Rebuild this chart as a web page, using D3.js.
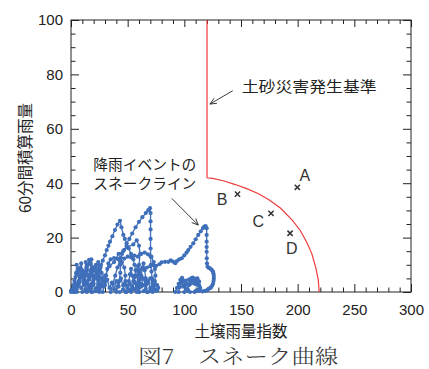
<!DOCTYPE html>
<html>
<head>
<meta charset="utf-8">
<script src="https://cdn.jsdelivr.net/npm/d3@7"></script>
<style>
  html, body { margin: 0; padding: 0; background: #fff; }
  svg { display: block; }
</style>
</head>
<body>
<svg id="chart" width="429" height="369"></svg>
<script>
// Axis ticks
const xMajorTicks = [0, 50, 100, 150, 200, 250, 300];
const yMajorTicks = [0, 20, 40, 60, 80, 100];

// Sediment disaster warning criterion (critical line)
const criticalLine = [
  [120, 100], [120, 42], [125, 41.8], [135, 40.8], [145, 39.5], [155, 38],
  [165, 36.2], [175, 33.8], [185, 30.8], [195, 26.5], [202, 22.8], [208, 18.3],
  [212.4, 14.2], [216, 9], [218.2, 4.4], [219, 0]
];

// Past disaster cases
const caseNames = ["A", "B", "C", "D"];
const caseX = [199.7, 146.9, 176.5, 193.3];
const caseY = [38.5, 36.0, 28.9, 21.6];

// Snake lines of rainfall events: [soil water index, 60-min cumulative rainfall]
const snake1 = [[0,0],[1,1],[2,2.5],[3,4],[4,5.5],[5,6.5],[6,7.5],[7,8.5],[8,9],[9,8],[10,6.5],[11,5],[12,4.5],[13,6],[14,8],[15,10],[16,11.8],[17,10.5],[18,8],[19,6],[19.5,4],[19,2.5],[18,1.5],[16,0.8],[13,0.3],[10,0]];
const snake2 = [[2,0],[3,1.5],[5,3],[7,4],[9,5.5],[11,4],[12,2.5],[14,3.5],[16,5],[18,7],[20,9],[22,10],[23,8],[24,6],[25,7.5],[26,9],[27,7],[28,4],[27,2],[25,1],[22,0.3],[18,0]];
const snake3 = [[14,0],[16,1.5],[18,3],[20,4.5],[22,6],[23.5,7.5],[25,9],[26.5,10],[28,11.5],[30,13.5],[31.5,15.4],[33,17],[34.4,18.5],[36.5,20.5],[38.8,22.8],[41,24.8],[43.2,26.2],[44.5,23.8],[46.2,21],[47.5,19.5],[49.1,17.9],[51.5,19.5],[54,21.5],[57,23.8],[60,25.8],[63,27.5],[66,29],[68.2,30.1],[69.7,30.8],[70.2,29],[70.2,26],[70.2,23],[70.2,19.5],[70.2,16],[70.3,13],[70.5,10],[71,7.5],[71.5,5],[72,3],[71.5,1.5],[70,0.5],[67,0]];
const snake4 = [[28,0],[29,2],[30,4],[31,6],[32,8.5],[33,10.5],[35,12],[38,12.5],[41,12.2],[44,12.6],[47,12.3],[50,13],[53,12.8],[56,13.4],[59,13],[62,14],[65,14.5],[68,13.8],[71,13],[73,11],[74,8.5],[74.5,6],[74,4],[73,2],[71,0.8],[68,0]];
const snake5 = [[35,0],[37,3],[39,6],[41,9],[43,11.5],[45,14],[47,15.5],[49,17],[51,16],[53,14],[55,12],[56,10],[57,8],[56.5,6],[55.5,4],[54,2],[52,0.8],[49,0]];
const snake6 = [[40,0],[41,2],[42.5,4],[43.5,7],[43.5,10],[43.5,12.5],[45,11],[47,9],[48,6],[47.5,3],[46,1],[43,0]];
const snake7 = [[48,0],[49.5,2],[51,4],[52,6.5],[53,8.5],[54,6],[55,4],[56.5,5.5],[58,8],[59,9.5],[60,7],[61,4.5],[62,6],[63,9],[64,10.5],[65,8],[66,5],[67,3],[66,1.2],[64,0.3],[60,0]];
const snake8 = [[58,0],[60,1.5],[62,3],[64,2.5],[66,4],[68,3.5],[70,5],[72,4],[74,3],[76,2.5],[77,1.5],[76,0.5],[72,0]];
const snake9 = [[60,0],[60.5,2.5],[61,5],[61,8.1],[64,8.6],[67,9],[70,9.5],[72.6,9.9],[75,9.6],[78,10.2],[80,10.9],[83,11.1],[85.9,11.1],[88,11.6],[90,11.2],[92,10.6],[93.5,11.4],[95.5,12],[97.7,12.4],[100,13.5],[102,14.5],[103.5,15.4],[105.5,16.6],[107.9,17.9],[110,19.4],[112.3,21],[114.5,22.3],[116.5,23.5],[117.6,24],[118.8,24.2],[119.7,23.4],[119.7,21],[119.7,18.5],[119.7,16.5],[119.7,14.8],[119.8,12.4],[120,10.5],[120.5,9.3],[121.5,8.9],[122.6,8.7],[124,8.2],[125.2,7.6],[125.6,6.9],[126,6],[126,5],[125.8,4],[125.3,3],[124.5,2.3],[123.5,1.7],[122.6,1.4],[121,1],[120,0.6],[118.2,0.4],[116,0.2]];
const snake10 = [[92,0],[93.5,1.5],[95,3],[96.5,4.5],[98,5.2],[99.5,4],[100.5,2.5],[101.5,1.2],[103,1],[104,2.5],[105,4],[106,5],[107.5,5.3],[108.5,4],[109.5,3],[110.5,4.2],[111.5,5],[112.5,4],[113,2.5],[112.5,1],[110,0.3],[105,0],[100,0]];
const snake11 = [[5,0],[6,2],[7.5,4],[9,6],[10.5,7],[12,6],[13,4],[14.5,3],[16,4.5],[17.5,6],[19,8],[20.5,9],[22,7.5],[23,5],[24,3],[24,1.5],[22,0.5],[19,0]];
const snake12 = [[0,0.5],[3,2],[5,1],[7,3],[9,1.5],[11,3.5],[13,1],[15,2.5],[17,0.8],[20,3],[22,1.2],[24,4],[26,2],[28,5],[30,2.5],[32,4.5],[34,1.5],[36,3.5],[38,1],[40,4],[42,2],[44,5],[46,2.5],[48,4],[50,1.5],[52,3],[54,1],[56,3.5],[58,1.5],[60,4],[62,2],[64,5],[66,2.5],[68,4],[70,1.5],[72,3],[74,1],[75,0.5]];
const snake13 = [[3,0],[4,3],[4.5,7],[5,10],[6,7],[7,4],[8,6],[9,10.5],[10,8],[11,5],[12,7],[13,11],[14,9],[15,6],[17,8],[18,12],[19,9],[20,5],[22,8],[24,11],[25,8],[26,5],[25,2],[22,0.5]];
const snake14 = [[25,0],[27,3],[30,6],[34,9.5],[38,11],[42,14],[46,15],[50,16.5],[55,17.5],[58,19],[60,17],[61,14],[60,10],[59,6],[58,3],[56,1],[53,0]];
const snake15 = [[95,0],[96,1.8],[97.5,3.5],[99,2],[101,4.2],[102.5,2.8],[104,4.6],[105.5,3],[107,5],[108.5,3.2],[110,4.8],[111.5,2.6],[113,3.8],[114,1.5],[113,0.4],[109,0]];

const snakes = [snake1, snake2, snake3, snake4, snake5, snake6, snake7, snake8,
  snake9, snake10, snake11, snake12, snake13, snake14, snake15];

const W = 429, H = 369;
const margin = { left: 71, right: 18, top: 20, bottom: 77 };
const x = d3.scaleLinear().domain([0, 300]).range([margin.left, W - margin.right]);
const y = d3.scaleLinear().domain([0, 100]).range([H - margin.bottom, margin.top]);

const svg = d3.select("#chart");
const latin = "'Liberation Sans', Arial, sans-serif";
const cjk = "'Noto Sans CJK JP', 'Noto Sans', sans-serif";
const ink = "#222";
const blue = "#3f6fba";
const red = "#ee3b3b";

const xMinor = d3.range(0, 301, 10).filter(v => v % 50 !== 0);
const yMinor = d3.range(0, 101, 5).filter(v => v % 20 !== 0);

// Ticks point inward on all four sides
function styleAxis(g) {
  g.select(".domain").remove();
  g.selectAll("line").attr("stroke", ink).attr("stroke-width", 1);
  g.selectAll("text").attr("fill", ink).style("font-family", latin).style("font-size", "15px");
}

svg.append("g").attr("transform", `translate(0,${y(0)})`)
  .call(d3.axisBottom(x).tickValues(xMajorTicks).tickSize(-8).tickPadding(12).tickFormat(d3.format("d")))
  .call(styleAxis);
svg.append("g").attr("transform", `translate(0,${y(0)})`)
  .call(d3.axisBottom(x).tickValues(xMinor).tickSize(-4.5).tickFormat(""))
  .call(styleAxis);
svg.append("g").attr("transform", `translate(0,${y(100)})`)
  .call(d3.axisTop(x).tickValues(xMajorTicks).tickSize(-7).tickFormat(""))
  .call(styleAxis);
svg.append("g").attr("transform", `translate(0,${y(100)})`)
  .call(d3.axisTop(x).tickValues(xMinor).tickSize(-4).tickFormat(""))
  .call(styleAxis);

svg.append("g").attr("transform", `translate(${x(0)},0)`)
  .call(d3.axisLeft(y).tickValues(yMajorTicks).tickSize(-8).tickPadding(8).tickFormat(d3.format("d")))
  .call(styleAxis);
svg.append("g").attr("transform", `translate(${x(0)},0)`)
  .call(d3.axisLeft(y).tickValues(yMinor).tickSize(-4.5).tickFormat(""))
  .call(styleAxis);
svg.append("g").attr("transform", `translate(${x(300)},0)`)
  .call(d3.axisRight(y).tickValues(yMajorTicks).tickSize(-8).tickFormat(""))
  .call(styleAxis);
svg.append("g").attr("transform", `translate(${x(300)},0)`)
  .call(d3.axisRight(y).tickValues(yMinor).tickSize(-4.5).tickFormat(""))
  .call(styleAxis);

// Plot frame
svg.append("rect")
  .attr("x", x(0)).attr("y", y(100))
  .attr("width", x(300) - x(0)).attr("height", y(0) - y(100))
  .attr("fill", "none").attr("stroke", ink).attr("stroke-width", 1);

// Critical line
svg.append("path").datum(criticalLine)
  .attr("d", d3.line().x(d => x(d[0])).y(d => y(d[1])))
  .attr("fill", "none").attr("stroke", red).attr("stroke-width", 1.2);

// Snake lines with hourly points
const snakeG = svg.append("g");
snakes.forEach(s => {
  snakeG.append("path").datum(s)
    .attr("d", d3.line().x(d => x(d[0])).y(d => y(d[1])))
    .attr("fill", "none").attr("stroke", blue).attr("stroke-width", 1.3)
    .attr("stroke-linejoin", "round");
  snakeG.selectAll(null).data(s).enter().append("circle")
    .attr("cx", d => x(d[0])).attr("cy", d => y(d[1]))
    .attr("r", 2.1).attr("fill", blue);
});

// Disaster cases: x marks and letters
const cases = caseNames.map((n, i) => ({ n, x: caseX[i], y: caseY[i] }));
const cg = svg.append("g");
cases.forEach(c => {
  const cx = x(c.x), cy = y(c.y), s = 2.6;
  cg.append("path")
    .attr("d", `M${cx - s},${cy - s}L${cx + s},${cy + s}M${cx - s},${cy + s}L${cx + s},${cy - s}`)
    .attr("stroke", "#333").attr("stroke-width", 1.5);
});
const labelOffset = { A: [7.5, -12.5], B: [-15.5, 5.3], C: [-12.7, 7.4], D: [1.7, 15] };
cases.forEach(c => {
  const o = labelOffset[c.n];
  cg.append("text")
    .attr("x", x(c.x) + o[0]).attr("y", y(c.y) + o[1])
    .attr("text-anchor", "middle").attr("dy", "0.36em")
    .attr("fill", "#333").style("font-family", latin).style("font-size", "16px")
    .text(c.n);
});

// Annotation arrows
function arrow(from, to) {
  const fx = x(from[0]), fy = y(from[1]), tx = x(to[0]), ty = y(to[1]);
  const ang = Math.atan2(ty - fy, tx - fx), h = 7, spread = 0.42;
  svg.append("path")
    .attr("d", `M${fx},${fy}L${tx},${ty}` +
      `M${tx - h * Math.cos(ang - spread)},${ty - h * Math.sin(ang - spread)}L${tx},${ty}` +
      `L${tx - h * Math.cos(ang + spread)},${ty - h * Math.sin(ang + spread)}`)
    .attr("fill", "none").attr("stroke", "#222").attr("stroke-width", 0.9);
}
arrow([142.7, 74], [122.6, 69.1]);
arrow([88.9, 34.4], [112.3, 24.6]);

svg.append("text")
  .attr("x", x(150.6)).attr("y", y(75.4)).attr("dy", "0.36em")
  .attr("textLength", 135).attr("lengthAdjust", "spacingAndGlyphs")
  .attr("fill", ink).style("font-family", cjk).style("font-size", "15px")
  .text("土砂災害発生基準");

svg.append("text")
  .attr("x", x(19.7)).attr("y", y(46.9)).attr("dy", "0.36em")
  .attr("textLength", 103).attr("lengthAdjust", "spacingAndGlyphs")
  .attr("fill", ink).style("font-family", cjk).style("font-size", "14.5px")
  .text("降雨イベントの");
svg.append("text")
  .attr("x", x(19.7)).attr("y", y(39.8)).attr("dy", "0.36em")
  .attr("textLength", 103).attr("lengthAdjust", "spacingAndGlyphs")
  .attr("fill", ink).style("font-family", cjk).style("font-size", "14.5px")
  .text("スネークライン");

// Axis titles
svg.append("text")
  .attr("x", (x(0) + x(300)) / 2).attr("y", 331.7).attr("dy", "0.36em")
  .attr("text-anchor", "middle")
  .attr("fill", ink).style("font-family", cjk).style("font-size", "15.5px")
  .text("土壌雨量指数");

svg.append("text")
  .attr("transform", `translate(25,${(y(0) + y(100)) / 2 + 2}) rotate(-90)`)
  .attr("text-anchor", "middle").attr("dy", "0.36em")
  .attr("fill", ink).style("font-family", cjk).style("font-size", "15.5px")
  .text("60分間積算雨量");

// Figure caption
svg.append("text")
  .attr("x", 238.3).attr("y", 357).attr("dy", "0.36em")
  .attr("text-anchor", "middle")
  .attr("textLength", 200).attr("lengthAdjust", "spacingAndGlyphs")
  .attr("fill", "#333").style("font-family", "'Noto Serif CJK JP', " + cjk).style("font-size", "20px")
  .style("font-weight", "300")
  .text("図7　スネーク曲線");
</script>
</body>
</html>
